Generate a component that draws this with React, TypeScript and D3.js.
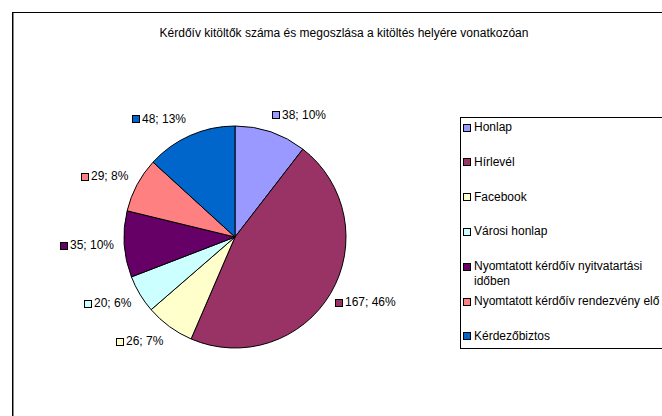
import React from "react";
import * as d3 from "d3";

const categories = [
  "Honlap",
  "Hírlevél",
  "Facebook",
  "Városi honlap",
  "Nyomtatott kérdőív nyitvatartási időben",
  "Nyomtatott kérdőív rendezvény elő",
  "Kérdezőbiztos",
];
const values = [38, 167, 26, 20, 35, 29, 48];
const percentLabels = ["10%", "46%", "7%", "6%", "10%", "8%", "13%"];
const legendLines = [
  ["Honlap"],
  ["Hírlevél"],
  ["Facebook"],
  ["Városi honlap"],
  ["Nyomtatott kérdőív nyitvatartási", "időben"],
  ["Nyomtatott kérdőív rendezvény elő"],
  ["Kérdezőbiztos"],
];
const colors = ["#9999FF", "#993366", "#FFFFCC", "#CCFFFF", "#660066", "#FF8080", "#0066CC"];
const title = "Kérdőív kitöltők száma és megoszlása a kitöltés helyére vonatkozóan";

const font = "'Liberation Sans', Arial, sans-serif";

function measure(text: string, size: number): number {
  if (typeof document === "undefined") return text.length * size * 0.55;
  const c = document.createElement("canvas");
  const ctx = c.getContext("2d");
  if (!ctx) return text.length * size * 0.55;
  ctx.font = `${size}px ${font}`;
  return ctx.measureText(text).width;
}

export default function App() {
  const W = 662;
  const H = 416;
  const cx = 235;
  const cy = 237;
  const r = 111;

  const pie = d3
    .pie<number>()
    .sort(null)
    .value((d) => d)
    .startAngle(0)
    .endAngle(2 * Math.PI);
  const arcs = pie(values);
  const arcGen = d3.arc<d3.PieArcDatum<number>>().innerRadius(0).outerRadius(r);

  const legendX = 460;
  const legendY = 117;
  const legendStep = 34.8;

  return (
    <div style={{ position: "fixed", left: 0, top: 0, width: W, height: H, background: "#fff" }}>
      <svg width={W} height={H} style={{ display: "block" }} fontFamily={font}>
        <rect x={0} y={0} width={W} height={H} fill="#fff" />
        <rect x={12.5} y={12.5} width={720} height={460} fill="none" stroke="#000" strokeWidth={1} />
        <line x1={13.5} y1={13} x2={13.5} y2={H} stroke="#888" strokeWidth={1} />
        <text x={344} y={37} textAnchor="middle" fontSize={12} fill="#000">
          {title}
        </text>
        <g transform={`translate(${cx},${cy})`}>
          {arcs.map((a, i) => (
            <path key={i} d={arcGen(a) || ""} fill={colors[i]} stroke="#000" strokeWidth={1} />
          ))}
        </g>
        {arcs.map((a, i) => {
          const mid = (a.startAngle + a.endAngle) / 2;
          const right = Math.sin(mid) >= 0;
          const x = cx + Math.sin(mid) * (r + (right ? 5 : 10));
          const y = cy - Math.cos(mid) * (r + 18);
          const label = `${values[i]}; ${percentLabels[i]}`;
          const textW = measure(label, 12);
          const boxX = right ? x : x - textW - 10;
          return (
            <g key={i}>
              <rect x={Math.round(boxX) + 0.5} y={Math.round(y - 3.5) + 0.5} width={7} height={7} fill={colors[i]} stroke="#000" strokeWidth={1} />
              <text x={Math.round(boxX) + 10} y={y + 4} fontSize={12} fill="#000">
                {label}
              </text>
            </g>
          );
        })}
        <rect x={legendX + 0.5} y={legendY + 0.5} width={260} height={231} fill="#fff" stroke="#000" strokeWidth={1} />
        {categories.map((c, i) => {
          const y = legendY + 10 + i * legendStep;
          return (
            <g key={c}>
              <rect x={legendX + 3.5} y={Math.round(y - 3.5) + 0.5} width={7} height={7} fill={colors[i]} stroke="#000" strokeWidth={1} />
              {legendLines[i].map((ln, j) => (
                <text key={j} x={legendX + 14} y={y + 4 + j * 15} fontSize={12} fill="#000">
                  {ln}
                </text>
              ))}
            </g>
          );
        })}
      </svg>
    </div>
  );
}
